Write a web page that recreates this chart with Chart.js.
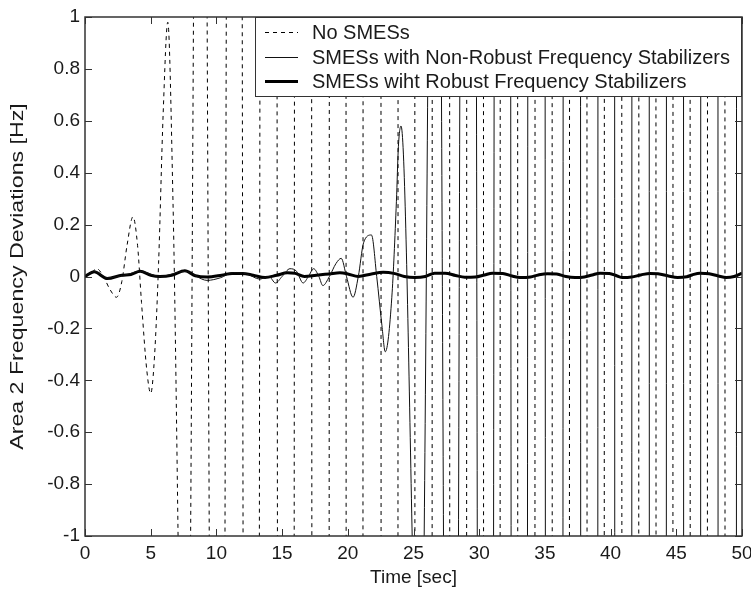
<!DOCTYPE html>
<html lang="en">
<head>
  <meta charset="UTF-8">
  <title>Area 2 Frequency Deviations</title>
  <script src="https://cdn.jsdelivr.net/npm/chart.js@4.4.0/dist/chart.umd.min.js"></script>
  <style>
    body { margin: 0; background: #fff; }
    #wrap { width: 751px; height: 592px; }
  </style>
</head>
<body>
  <div id="wrap"><canvas id="freqChart" width="751" height="592"></canvas></div>

  <script>
    // tick values
    const xTickVals = [0, 5, 10, 15, 20, 25, 30, 35, 40, 45, 50];
    const yTickVals = [-1, -0.8, -0.6, -0.4, -0.2, 0, 0.2, 0.4, 0.6, 0.8, 1];

    const seriesNames = [
      'No SMESs',
      'SMESs with Non-Robust Frequency Stabilizers',
      'SMESs wiht Robust Frequency Stabilizers'
    ];
    const xTitle = 'Time [sec]';
    const yTitle = 'Area 2 Frequency Deviations [Hz]';

    // No SMESs (dashed) - grows unstable, off scale after ~7 s
    const noSmesT = [0, 0.4, 0.9, 1.4, 1.9, 2.4, 2.8, 3.2, 3.65, 4.0, 4.3, 4.7, 5.0, 5.3, 5.6, 5.95, 6.3, 6.7,
      7.7, 8.8, 10.15, 11.45, 12.7, 14.05, 15.35, 16.65, 18.0, 19.3, 20.55, 21.85, 23.2, 24.45, 25.75, 27.1,
      28.4, 29.7, 30.95, 32.25, 33.6, 34.9, 36.2, 37.55, 38.85, 40.2, 41.5, 42.8, 44.1, 45.4, 46.7, 48.05, 49.35, 50.65];
    const noSmesV = [0, 0.01, 0.03, 0.0, -0.05, -0.08, -0.02, 0.12, 0.23, 0.12, -0.1, -0.36, -0.45, -0.3, 0.05, 0.63, 0.98, 0.28,
      -2.6, 4.5, -7, 11, -16, 23, -32, 44, -60, 80, -105, 135, -170, 210, -260, 320,
      -390, 470, -560, 660, -780, 900, -1050, 1200, -1400, 1600, -1850, 2100, -2400, 2700, -3100, 3500, -4000, 4500];

    // SMESs with non-robust stabilizers (thin solid) - unstable after ~20 s
    const nonRobustT = [0, 0.7, 1.7, 3.0, 4.2, 5.7, 7.6, 9.3, 10.3, 11.3, 12.3, 13.3, 14.0, 14.5, 15.0, 15.6, 16.1, 16.6,
      17.0, 17.4, 17.8, 18.1, 18.6, 19.1, 19.5, 19.9, 20.4, 20.8, 21.2, 21.8, 22.2, 22.6, 22.85, 23.35, 23.7, 23.85, 24.05,
      25.5, 26.68, 27.93, 29.26, 30.55, 31.85, 33.1, 34.4, 35.77, 37.1, 38.43, 39.72, 40.98, 42.28, 43.6, 44.9, 46.2,
      47.52, 48.82, 50.1];
    const nonRobustV = [0, 0.02, -0.005, 0.005, 0.02, 0, 0.02, -0.015, -0.005, 0.015, 0.01, -0.01, 0.0, -0.025, 0.0, 0.03, 0.02, -0.025,
      0.0, 0.03, 0.0, -0.035, 0.0, 0.05, 0.07, 0.0, -0.08, 0.0, 0.13, 0.16, 0.0, -0.19, -0.29, -0.08, 0.29, 0.5, 0.58,
      -1.94, 3.5, -6, 10, -15, 22, -30, 40, -52, 66, -82, 100, -120, 145, -170, 200, -235,
      270, -310, 350];

    // SMESs with robust stabilizers (thick solid) - stays near zero
    const robustT = [0, 0.7, 1.7, 2.8, 3.5, 4.2, 5.0, 5.7, 6.6, 7.6, 8.4, 9.3, 10.4, 11.2, 12.0, 12.8, 13.7, 14.6, 15.4, 16.0,
      16.7, 17.6, 18.6, 19.4, 20.0, 20.8, 21.8, 22.7, 23.5, 24.3, 25.1, 25.9, 26.6, 27.4, 28.2, 28.9, 29.7, 30.4, 31.0,
      31.8, 32.5, 33.1, 33.9, 34.5, 35.2, 35.9, 36.6, 37.3, 38.0, 38.6, 39.2, 39.9, 40.5, 40.9, 41.6, 42.3, 43.0, 43.6,
      44.4, 45.1, 45.8, 46.2, 46.8, 47.5, 48.2, 48.8, 49.4, 50];
    const robustV = [0, 0.018, -0.008, 0.005, 0.008, 0.02, 0.005, 0, 0.005, 0.022, 0.003, -0.002, 0.005, 0.012, 0.012, 0.005, -0.004, 0.005, 0.014, 0.012,
      0.0, 0.005, 0.01, 0.014, 0.01, 0.0, 0.01, 0.016, 0.012, 0.0, -0.004, 0.0, 0.013, 0.013, 0.004, -0.003, -0.002, 0.006, 0.013,
      0.012, 0.002, -0.004, -0.002, 0.006, 0.011, 0.01, 0.0, -0.004, -0.002, 0.006, 0.013, 0.012, 0.002, -0.004, -0.002, 0.006, 0.012, 0.011,
      0.002, -0.004, -0.001, 0.006, 0.013, 0.011, 0.002, -0.004, 0.0, 0.013];

    const toPoints = (ts, vs) => ts.map((t, i) => ({ x: t, y: vs[i] }));

    const FONT = "'Liberation Sans', Arial, sans-serif";
    const TEXT = '#1a1a1a';

    // MATLAB style: ticks pointing inward on all four sides
    const insideTicks = {
      id: 'insideTicks',
      afterDatasetsDraw(chart) {
        const { ctx, chartArea: a, scales } = chart;
        const len = 7;
        ctx.save();
        ctx.strokeStyle = '#333';
        ctx.lineWidth = 1;
        ctx.beginPath();
        xTickVals.forEach(v => {
          const px = Math.round(scales.x.getPixelForValue(v)) + 0.5;
          ctx.moveTo(px, a.bottom); ctx.lineTo(px, a.bottom - len);
          ctx.moveTo(px, a.top); ctx.lineTo(px, a.top + len);
        });
        yTickVals.forEach(v => {
          const py = Math.round(scales.y.getPixelForValue(v)) + 0.5;
          ctx.moveTo(a.left, py); ctx.lineTo(a.left + len, py);
          ctx.moveTo(a.right, py); ctx.lineTo(a.right - len, py);
        });
        ctx.stroke();
        ctx.restore();
      }
    };

    // legend box in the top right corner of the axes
    const legendBox = {
      id: 'legendBox',
      afterDatasetsDraw(chart) {
        const { ctx, chartArea: a } = chart;
        const w = 487, h = 80;
        const left = a.right - w, top = a.top;
        ctx.save();
        ctx.fillStyle = '#fff';
        ctx.fillRect(left, top, w, h);
        ctx.strokeStyle = '#333';
        ctx.lineWidth = 1;
        ctx.strokeRect(left + 0.5, top + 0.5, w - 1, h - 1);
        const rows = [15, 40, 64];
        chart.data.datasets.forEach((ds, i) => {
          const y = top + rows[i];
          ctx.beginPath();
          ctx.setLineDash(ds.borderDash || []);
          ctx.lineWidth = ds.borderWidth;
          ctx.strokeStyle = ds.borderColor;
          ctx.moveTo(left + 10, y + 0.5);
          ctx.lineTo(left + 43, y + 0.5);
          ctx.stroke();
          ctx.setLineDash([]);
          ctx.fillStyle = TEXT;
          ctx.font = '20px ' + FONT;
          ctx.textBaseline = 'middle';
          ctx.fillText(ds.label, left + 57, y + 1);
        });
        ctx.restore();
      }
    };

    // axes box and the (slightly stretched) y-axis label
    const axesFrame = {
      id: 'axesFrame',
      afterDraw(chart) {
        const { ctx, chartArea: a } = chart;
        ctx.save();
        ctx.strokeStyle = '#333';
        ctx.lineWidth = 1.5;
        ctx.strokeRect(a.left, a.top, a.right - a.left, a.bottom - a.top);
        ctx.translate(18, (a.top + a.bottom) / 2);
        ctx.rotate(-Math.PI / 2);
        ctx.scale(1.22, 1);
        ctx.fillStyle = TEXT;
        ctx.font = '19px ' + FONT;
        ctx.textAlign = 'center';
        ctx.textBaseline = 'middle';
        ctx.fillText(yTitle, 0, 0);
        ctx.restore();
      }
    };

    const chart = new Chart(document.getElementById('freqChart').getContext('2d'), {
      type: 'line',
      data: {
        datasets: [
          {
            label: seriesNames[0],
            data: toPoints(noSmesT, noSmesV),
            borderColor: '#000',
            borderWidth: 1,
            borderDash: [4, 4],
            pointRadius: 0,
            cubicInterpolationMode: 'monotone'
          },
          {
            label: seriesNames[1],
            data: toPoints(nonRobustT, nonRobustV),
            borderColor: '#111',
            borderWidth: 1,
            pointRadius: 0,
            cubicInterpolationMode: 'monotone'
          },
          {
            label: seriesNames[2],
            data: toPoints(robustT, robustV),
            borderColor: '#000',
            borderWidth: 3,
            pointRadius: 0,
            cubicInterpolationMode: 'monotone'
          }
        ]
      },
      options: {
        responsive: false,
        animation: false,
        devicePixelRatio: 1,
        layout: { autoPadding: false, padding: { left: 0, right: 9, top: 17, bottom: 0 } },
        plugins: {
          legend: { display: false },
          tooltip: { enabled: false }
        },
        scales: {
          x: {
            type: 'linear',
            min: 0,
            max: 50,
            afterBuildTicks: s => { s.ticks = xTickVals.map(v => ({ value: v })); },
            afterFit: s => { s.height = 56; s.paddingLeft = 0; s.paddingRight = 0; },
            grid: { display: false, drawTicks: false },
            border: { display: false },
            ticks: { color: TEXT, font: { family: FONT, size: 19 }, padding: 6, maxRotation: 0 },
            title: { display: true, text: xTitle, color: TEXT, font: { family: FONT, size: 19 }, padding: { top: 0, bottom: 3 } }
          },
          y: {
            type: 'linear',
            min: -1,
            max: 1,
            afterBuildTicks: s => { s.ticks = yTickVals.map(v => ({ value: v })); },
            afterFit: s => { s.width = 85; s.paddingTop = 0; s.paddingBottom = 0; },
            grid: { display: false, drawTicks: false },
            border: { display: false },
            ticks: {
              color: TEXT,
              font: { family: FONT, size: 19 },
              padding: 5,
              callback: v => String(Math.round(v * 10) / 10)
            },
            title: { display: false }
          }
        }
      },
      plugins: [insideTicks, legendBox, axesFrame]
    });
  </script>
</body>
</html>
